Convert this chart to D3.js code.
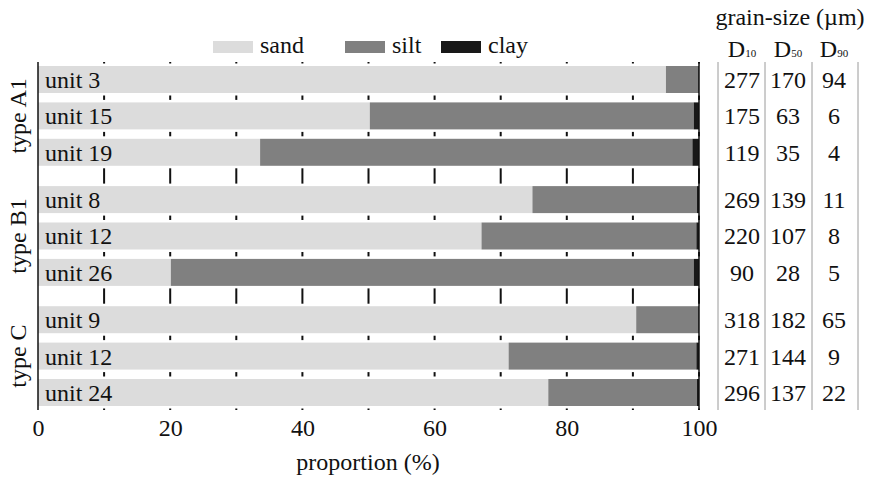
<!DOCTYPE html>
<html><head><meta charset="utf-8">
<script src="https://cdn.jsdelivr.net/npm/d3@7"></script>
<style>body{margin:0;background:#fff}svg{display:block}text{font-family:"Liberation Serif","Times New Roman",serif}</style>
</head><body><svg id="c" width="872" height="479"></svg>
<script>
const groups = ["type A1","type B1","type C"];
const units = ["unit 3","unit 15","unit 19","unit 8","unit 12","unit 26","unit 9","unit 12","unit 24"];
const groupOf = [0,0,0,1,1,1,2,2,2];
const sand = [95.0,50.2,33.6,74.8,67.1,20.1,90.5,71.2,77.2];
const clay = [0.1,0.8,1.0,0.3,0.4,0.8,0.1,0.4,0.3];
const silt = sand.map((s,i)=>+(100-s-clay[i]).toFixed(1));
const d10 = [277,175,119,269,220,90,318,271,296];
const d50 = [170,63,35,139,107,28,182,144,137];
const d90 = [94,6,4,11,8,5,65,9,22];
const xTicks = [0,20,40,60,80,100];
const gridTicks = [10,20,30,40,50,60,70,80,90,100];
const series = ["sand","silt","clay"];
const colors = {sand:"#dcdcdc", silt:"#808080", clay:"#181818"};
const ink = "#111";

const svg = d3.select("#c");
const x = d3.scaleLinear().domain([0,100]).range([38,699]);
const gapFrac = 0.3;
const slot = i => i + groupOf[i]*gapFrac;
const y = d3.scaleLinear().domain([0, slot(8)]).range([66,379]);
const barH = 27;
const yTop = 62, yBot = 410;

svg.append("g").selectAll("line").data(gridTicks).join("line")
  .attr("x1",d=>x(d)).attr("x2",d=>x(d)).attr("y1",yTop).attr("y2",yBot)
  .attr("stroke","#111").attr("stroke-width",2);

const rows = units.map((u,i)=>({i,u,sand:sand[i],silt:silt[i],clay:clay[i]}));
const stack = d3.stack().keys(series)(rows);

svg.append("g").selectAll("rect").data(rows).join("rect")
  .attr("x",x(0)+1).attr("width",x(100)-x(0)+4)
  .attr("y",d=>y(slot(d.i))-2.5).attr("height",barH+5).attr("fill","#fff");

svg.append("g").selectAll("g").data(stack).join("g")
  .attr("fill",d=>colors[d.key])
  .selectAll("rect").data(d=>d).join("rect")
  .attr("x",d=>x(d[0])).attr("width",d=>Math.max(0,x(d[1])-x(d[0])))
  .attr("y",d=>y(slot(d.data.i))).attr("height",barH);

svg.append("line").attr("x1",x(100)).attr("x2",x(100)).attr("y1",yTop).attr("y2",yBot)
  .attr("stroke","#111").attr("stroke-width",1.5);
svg.append("line").attr("x1",x(0)).attr("x2",x(0)).attr("y1",yTop).attr("y2",yBot)
  .attr("stroke","#111").attr("stroke-width",1.5);

svg.append("g").selectAll("text").data(rows).join("text")
  .attr("x",45).attr("y",d=>y(slot(d.i))+barH/2).attr("dy","0.35em")
  .attr("font-size",24).attr("fill",ink).text(d=>d.u);

groups.forEach((g,gi)=>{
  const idx = groupOf.map((v,i)=>v===gi?i:-1).filter(v=>v>=0);
  const cy = (y(slot(idx[0])) + y(slot(idx[idx.length-1]))+barH)/2;
  svg.append("text").attr("transform",`translate(26,${cy}) rotate(-90)`)
    .attr("text-anchor","middle").attr("font-size",24).attr("fill",ink).text(g);
});

const ax = svg.append("g").attr("transform",`translate(0,${yBot})`)
  .call(d3.axisBottom(x).tickValues(xTicks).tickSize(0).tickPadding(9));
ax.select(".domain").remove();
ax.selectAll("text").attr("font-size",24).attr("fill",ink);

svg.append("text").attr("x",368).attr("y",470).attr("text-anchor","middle")
  .attr("font-size",24).attr("fill",ink).text("proportion (%)");

const legX = [213,345,441];
const lg = svg.append("g").selectAll("g").data(series).join("g")
  .attr("transform",(d,i)=>`translate(${legX[i]},0)`);
lg.append("rect").attr("x",0).attr("y",41).attr("width",40).attr("height",12).attr("fill",d=>colors[d]);
lg.append("text").attr("x",47).attr("y",53).attr("font-size",24).attr("fill",ink).text(d=>d);

const colX = [742,788,834];
const sepX = [718,765,812,858];
svg.append("g").selectAll("line").data(sepX).join("line")
  .attr("x1",d=>d).attr("x2",d=>d).attr("y1",yTop).attr("y2",yBot)
  .attr("stroke","#9a9a9a").attr("stroke-width",1);
svg.append("text").attr("x",790).attr("y",25).attr("text-anchor","middle")
  .attr("font-size",24).attr("fill",ink).text("grain-size (µm)");
const heads = ["10","50","90"];
heads.forEach((h,k)=>{
  const t = svg.append("text").attr("x",colX[k]).attr("y",57).attr("text-anchor","middle")
    .attr("font-size",24).attr("fill",ink);
  t.append("tspan").text("D");
  t.append("tspan").attr("font-size",11).text(h);
});
const cols = [d10,d50,d90];
cols.forEach((arr,k)=>{
  svg.append("g").selectAll("text").data(arr).join("text")
    .attr("x",colX[k]).attr("y",(d,i)=>y(slot(i))+barH/2).attr("dy","0.35em")
    .attr("text-anchor","middle").attr("font-size",24).attr("fill",ink).text(d=>d);
});
</script></body></html>
